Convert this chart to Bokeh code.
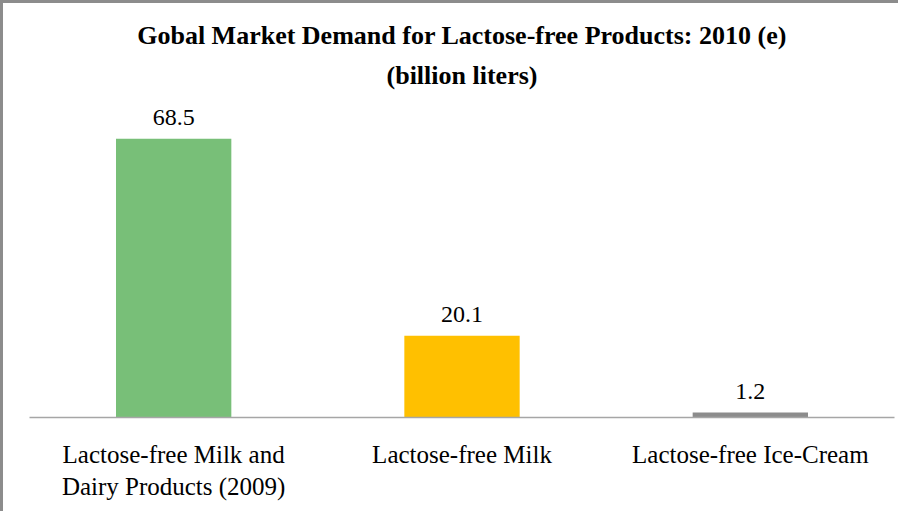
from bokeh.plotting import figure
from bokeh.models import ColumnDataSource, LabelSet, Range1d, Title
from bokeh.embed import file_html
from bokeh.resources import INLINE

categories = ["Lactose-free Milk and\nDairy Products (2009)", "Lactose-free Milk", "Lactose-free Ice-Cream"]
values = [68.5, 20.1, 1.2]
value_labels = ["68.5", "20.1", "1.2"]
colors = ["#78BF78", "#FFC000", "#8C8C8C"]

src = ColumnDataSource(dict(cat=categories, val=values, lab=value_labels, col=colors))

p = figure(x_range=categories, y_range=Range1d(0, 79.1), width=898, height=511,
           output_backend="svg", toolbar_location=None,
           min_border_left=29, min_border_right=4, min_border_bottom=94, min_border_top=95)
p.x_range.range_padding = 0
p.border_fill_color = None
p.styles = {"box-shadow": "inset 3px 3px 0 0 #8C8C8C"}

p.title.text = "Gobal Market Demand for Lactose-free Products: 2010 (e)"
p.title.align = "center"
p.title.text_font = "Liberation Serif"
p.title.text_font_size = "26px"
p.title.text_font_style = "bold"
p.title.text_color = "black"
p.title.standoff = 5
t2 = Title(text="(billion liters)", align="center", text_font="Liberation Serif",
           text_font_size="26px", text_font_style="bold", text_color="black", standoff=12)
p.add_layout(t2, "above")

p.vbar(x="cat", top="val", width=0.40, color="col", source=src, line_color=None)

labels = LabelSet(x="cat", y="val", text="lab", source=src, text_align="center",
                  text_baseline="bottom", y_offset=14, text_font="Liberation Serif",
                  text_font_size="24px", text_color="black")
p.add_layout(labels)

p.yaxis.visible = False
p.xgrid.grid_line_color = None
p.ygrid.grid_line_color = None
p.outline_line_color = None
p.xaxis.axis_line_color = "#A6A6A6"
p.xaxis.axis_line_width = 1.5
p.xaxis.major_tick_line_color = None
p.xaxis.minor_tick_line_color = None
p.xaxis.major_label_text_font = "Liberation Serif"
p.xaxis.major_label_text_font_size = "25px"
p.xaxis.major_label_text_color = "black"
p.xaxis.major_label_standoff = 17

open("out.html", "w").write(file_html(p, INLINE))
